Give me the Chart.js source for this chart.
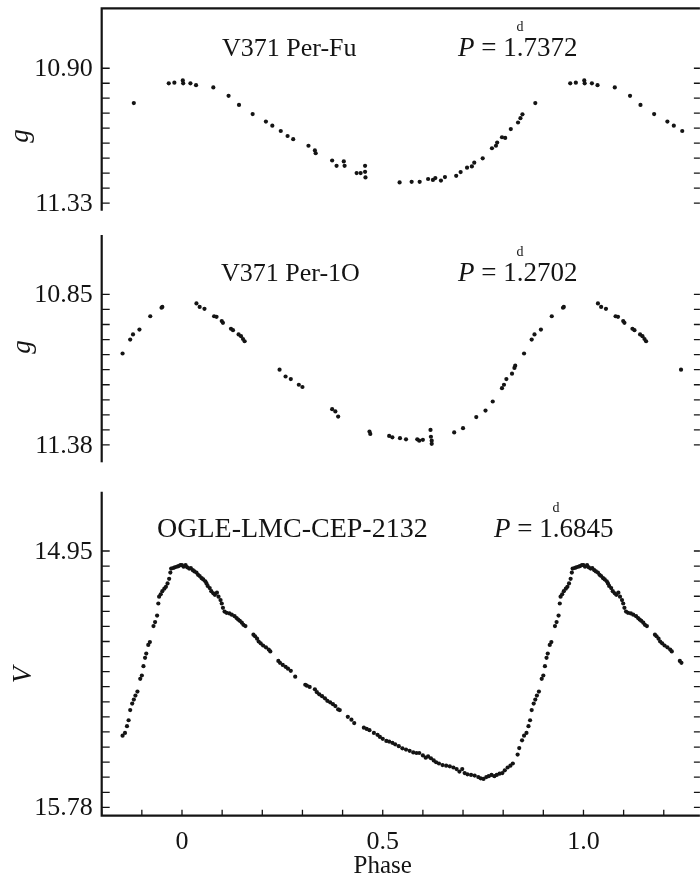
<!DOCTYPE html>
<html>
<head>
<meta charset="utf-8">
<script src="https://cdn.jsdelivr.net/npm/chart.js@4.4.1/dist/chart.umd.min.js"></script>
<style>
  html, body { margin: 0; padding: 0; background: #fff; overflow: hidden; }
  #wrap { position: relative; width: 700px; height: 878px; overflow: hidden; }
  #wrap canvas { position: absolute; left: 0; }
</style>
</head>
<body>
<div id="wrap">
  <canvas id="c1" width="702" height="222" style="top:0px"></canvas>
  <canvas id="c2" width="702" height="248" style="top:222px"></canvas>
  <canvas id="c3" width="702" height="408" style="top:470px"></canvas>
</div>
<script>
// ---------- light-curve data (phase, magnitude) ----------
// V371 Per, fundamental mode, g band
const fuPhase = [0.002, 0.003, 0.021, 0.035, 0.078, 0.116, 0.142, 0.176, 0.209, 0.225, 0.246, 0.263, 0.277, 0.315, 0.331, 0.333, 0.374, 0.385, 0.403, 0.405, 0.435, 0.445, 0.456, 0.456, 0.457, 0.542, 0.572, 0.592, 0.613, 0.625, 0.631, 0.645, 0.655, 0.683, 0.694, 0.710, 0.722, 0.728, 0.749, 0.772, 0.782, 0.785, 0.797, 0.805, 0.819, 0.837, 0.843, 0.848, 0.880, 0.967, 0.981];
const fuMag = [10.939, 10.948, 10.948, 10.954, 10.961, 10.988, 11.017, 11.046, 11.070, 11.083, 11.100, 11.116, 11.126, 11.147, 11.162, 11.171, 11.194, 11.211, 11.197, 11.211, 11.234, 11.234, 11.211, 11.230, 11.248, 11.264, 11.262, 11.262, 11.253, 11.256, 11.250, 11.258, 11.247, 11.243, 11.231, 11.217, 11.213, 11.201, 11.187, 11.155, 11.147, 11.137, 11.120, 11.122, 11.094, 11.073, 11.059, 11.047, 11.011, 10.948, 10.946];

// V371 Per, first overtone, g band
const foPhase = [0.036, 0.044, 0.056, 0.080, 0.086, 0.099, 0.102, 0.122, 0.127, 0.141, 0.147, 0.152, 0.156, 0.243, 0.258, 0.271, 0.291, 0.300, 0.374, 0.382, 0.389, 0.467, 0.469, 0.516, 0.524, 0.543, 0.558, 0.586, 0.591, 0.600, 0.619, 0.620, 0.622, 0.622, 0.678, 0.700, 0.733, 0.756, 0.774, 0.797, 0.802, 0.808, 0.822, 0.828, 0.830, 0.852, 0.871, 0.878, 0.894, 0.921, 0.949, 0.951];
const foMag = [10.882, 10.894, 10.901, 10.927, 10.929, 10.944, 10.950, 10.971, 10.976, 10.991, 10.997, 11.007, 11.015, 11.115, 11.139, 11.148, 11.168, 11.176, 11.254, 11.262, 11.280, 11.333, 11.341, 11.348, 11.353, 11.356, 11.360, 11.360, 11.365, 11.362, 11.327, 11.351, 11.365, 11.376, 11.336, 11.321, 11.282, 11.259, 11.227, 11.180, 11.168, 11.148, 11.129, 11.109, 11.101, 11.058, 11.009, 10.991, 10.974, 10.927, 10.897, 10.894];

// OGLE-LMC-CEP-2132, V band
const ogPhase = [0.000, 0.004, 0.009, 0.013, 0.018, 0.022, 0.027, 0.031, 0.036, 0.040,
  0.044, 0.049, 0.053, 0.058, 0.061, 0.064, 0.069, 0.073, 0.078, 0.082,
  0.087, 0.091, 0.096, 0.099, 0.102, 0.106, 0.111, 0.118, 0.124, 0.131,
  0.136, 0.140, 0.144, 0.149, 0.153, 0.158, 0.178, 0.182, 0.187, 0.191,
  0.196, 0.202, 0.209, 0.216, 0.220, 0.240, 0.244, 0.251, 0.258, 0.264,
  0.271, 0.282, 0.307, 0.311, 0.318, 0.331, 0.336, 0.342, 0.349, 0.356,
  0.362, 0.369, 0.376, 0.382, 0.389, 0.393, 0.413, 0.422, 0.429, 0.453,
  0.460, 0.467, 0.478, 0.487, 0.493, 0.500, 0.509, 0.516, 0.524, 0.531,
  0.540, 0.549, 0.558, 0.567, 0.576, 0.584, 0.591, 0.600, 0.607, 0.613,
  0.620, 0.627, 0.633, 0.640, 0.649, 0.658, 0.667, 0.676, 0.684, 0.691,
  0.698, 0.704, 0.711, 0.720, 0.729, 0.738, 0.744, 0.751, 0.758, 0.764,
  0.771, 0.778, 0.784, 0.791, 0.798, 0.804, 0.811, 0.818, 0.824, 0.836,
  0.840, 0.847, 0.852, 0.858, 0.863, 0.867, 0.871, 0.876, 0.880, 0.884,
  0.889, 0.896, 0.900, 0.904, 0.908, 0.911, 0.916, 0.920, 0.929, 0.933,
  0.938, 0.941, 0.943, 0.947, 0.951, 0.956, 0.960, 0.964, 0.968, 0.971,
  0.973, 0.978, 0.982, 0.987, 0.991, 0.996];
const ogMag = [14.996, 15.001, 14.996, 15.003, 15.007, 15.005, 15.012, 15.016, 15.020, 15.027,
  15.031, 15.038, 15.042, 15.048, 15.055, 15.063, 15.070, 15.080, 15.087, 15.092,
  15.085, 15.098, 15.109, 15.120, 15.134, 15.146, 15.150, 15.152, 15.156, 15.161,
  15.167, 15.172, 15.176, 15.182, 15.189, 15.193, 15.221, 15.226, 15.234, 15.243,
  15.249, 15.256, 15.262, 15.269, 15.275, 15.306, 15.312, 15.319, 15.325, 15.331,
  15.338, 15.357, 15.383, 15.386, 15.390, 15.398, 15.407, 15.414, 15.420, 15.427,
  15.435, 15.440, 15.446, 15.452, 15.463, 15.465, 15.487, 15.496, 15.507, 15.522,
  15.526, 15.530, 15.539, 15.545, 15.552, 15.558, 15.565, 15.567, 15.571, 15.576,
  15.582, 15.589, 15.593, 15.597, 15.602, 15.604, 15.604, 15.612, 15.619, 15.615,
  15.621, 15.628, 15.634, 15.638, 15.643, 15.645, 15.647, 15.651, 15.656, 15.664,
  15.656, 15.669, 15.673, 15.675, 15.677, 15.682, 15.686, 15.688, 15.682, 15.679,
  15.675, 15.679, 15.675, 15.671, 15.669, 15.660, 15.651, 15.645, 15.638, 15.609,
  15.588, 15.563, 15.548, 15.539, 15.517, 15.498, 15.465, 15.444, 15.431, 15.418,
  15.405, 15.364, 15.353, 15.323, 15.296, 15.282, 15.254, 15.245, 15.193, 15.180,
  15.159, 15.120, 15.098, 15.090, 15.080, 15.072, 15.066, 15.055, 15.040, 15.020,
  15.007, 15.005, 15.003, 15.001, 14.999, 14.996];

// ---------- axes ----------
const phaseTicks = [-0.2, -0.1, 0, 0.1, 0.2, 0.3, 0.4, 0.5, 0.6, 0.7, 0.8, 0.9, 1.0, 1.1, 1.2];
const phaseLabels = { '0': '0', '0.5': '0.5', '1': '1.0' };
const fuTickLabels = ['10.90', '11.33'];
const foTickLabels = ['10.85', '11.38'];
const ogTickLabels = ['14.95', '15.78'];

const PHASE_MIN = -0.2, PHASE_MAX = 1.29;   // axis extent
const SHOW_MIN = -0.15, SHOW_MAX = 1.25;    // repeated-cycle window

const FONT = '"Liberation Serif", "Times New Roman", serif';
const INK = '#141414';

// each observation is plotted at phase, phase-1 and phase+1 within the window
function foldCycles(phase, mag) {
  const pts = [];
  phase.forEach((p, i) => {
    [p - 1, p, p + 1].forEach(q => {
      if (q >= SHOW_MIN && q <= SHOW_MAX) pts.push({ x: q, y: mag[i] });
    });
  });
  return pts;
}

// tick marks evenly spaced between the two labelled magnitudes
function magTicks(labels, intervals) {
  const lo = parseFloat(labels[0]), hi = parseFloat(labels[1]);
  const out = [];
  for (let k = 0; k <= intervals; k++) out.push(lo + (hi - lo) * k / intervals);
  return out;
}

function drawPeriod(ctx, x, y, whole, frac) {
  ctx.textAlign = 'left';
  ctx.font = 'italic 27px ' + FONT;
  ctx.fillText('P', x, y);
  x += ctx.measureText('P').width;
  ctx.font = '27px ' + FONT;
  const head = ' = ' + whole;
  ctx.fillText(head, x, y);
  x += ctx.measureText(head).width;
  const dotW = ctx.measureText('.').width;
  ctx.fillText('.', x, y);
  ctx.fillText(frac, x + dotW, y);
  ctx.font = '14px ' + FONT;
  ctx.textAlign = 'center';
  ctx.fillText('d', x + dotW / 2, y - 25);
  ctx.textAlign = 'left';
}

const decor = {
  id: 'decor',
  afterDraw(chart, args, o) {
    const { ctx, chartArea: a, scales: { x, y } } = chart;
    ctx.save();
    ctx.strokeStyle = INK;
    ctx.fillStyle = INK;
    ctx.lineCap = 'butt';

    // tick marks, pointing inward
    ctx.lineWidth = 1.3;
    ctx.beginPath();
    y.ticks.forEach(t => {
      const py = y.getPixelForValue(t.value);
      ctx.moveTo(a.left, py); ctx.lineTo(a.left + 8, py);
      ctx.moveTo(a.right, py); ctx.lineTo(a.right - 6, py);
    });
    if (o.bottomAxis) {
      x.ticks.forEach(t => {
        const px = x.getPixelForValue(t.value);
        ctx.moveTo(px, a.bottom); ctx.lineTo(px, a.bottom - 6);
      });
    }
    ctx.stroke();

    // frame lines
    ctx.lineWidth = 2.2;
    ctx.beginPath();
    ctx.moveTo(a.left, a.top - (o.topBorder ? 1.1 : 0));
    ctx.lineTo(a.left, a.bottom + (o.bottomAxis ? 1.1 : 0));
    if (o.topBorder) { ctx.moveTo(a.left, a.top); ctx.lineTo(a.right, a.top); }
    if (o.bottomAxis) { ctx.moveTo(a.left, a.bottom); ctx.lineTo(a.right, a.bottom); }
    ctx.stroke();

    // star name and period
    ctx.textBaseline = 'alphabetic';
    ctx.textAlign = 'left';
    ctx.font = o.nameSize + 'px ' + FONT;
    ctx.fillText(o.name, o.nameX, o.baseY);
    drawPeriod(ctx, o.periodX, o.baseY, o.whole, o.frac);

    // vertical axis name
    ctx.save();
    ctx.translate(o.yNameX, o.yNameY);
    ctx.rotate(-Math.PI / 2);
    ctx.font = 'italic 27px ' + FONT;
    ctx.textAlign = 'center';
    ctx.fillText(o.yName, 0, o.yNameShift);
    ctx.restore();

    // horizontal axis name
    if (o.xName) {
      ctx.font = '25px ' + FONT;
      ctx.textAlign = 'center';
      ctx.fillText(o.xName, x.getPixelForValue(0.5), o.xNameY);
    }
    ctx.restore();
  }
};

function makeChart(id, cfg) {
  const ticks = magTicks(cfg.labels, cfg.intervals);
  return new Chart(document.getElementById(id), {
    type: 'scatter',
    data: {
      datasets: [{
        data: foldCycles(cfg.phase, cfg.mag),
        backgroundColor: INK,
        borderWidth: 0,
        pointRadius: 2.1,
        pointHoverRadius: 2.1
      }]
    },
    options: {
      responsive: false,
      animation: false,
      devicePixelRatio: 1,
      events: [],
      layout: { padding: cfg.padding },
      plugins: {
        legend: { display: false },
        tooltip: { enabled: false },
        decor: cfg.decor
      },
      scales: {
        x: {
          type: 'linear',
          min: PHASE_MIN,
          max: PHASE_MAX,
          display: cfg.showX,
          grid: { display: false },
          border: { display: false },
          afterBuildTicks: s => { s.ticks = phaseTicks.map(v => ({ value: v })); },
          afterFit: s => { if (cfg.showX) s.height = cfg.xHeight; },
          ticks: {
            autoSkip: false,
            maxRotation: 0,
            padding: 3,
            color: INK,
            font: { family: FONT, size: 26 },
            callback: v => phaseLabels[String(Math.round(v * 10) / 10)] || ''
          }
        },
        y: {
          type: 'linear',
          reverse: true,
          min: cfg.range[0],
          max: cfg.range[1],
          grid: { display: false },
          border: { display: false },
          afterBuildTicks: s => { s.ticks = ticks.map(v => ({ value: v })); },
          afterFit: s => { s.width = 101.7; },
          ticks: {
            autoSkip: false,
            padding: 1,
            labelOffset: 1,
            color: INK,
            font: { family: FONT, size: 26, lineHeight: 0.5 },
            callback: (v, i, arr) => i === 0 ? cfg.labels[0] : (i === arr.length - 1 ? cfg.labels[1] : '')
          }
        }
      }
    },
    plugins: [decor]
  });
}

makeChart('c1', {
  phase: fuPhase, mag: fuMag, labels: fuTickLabels, intervals: 9,
  range: [10.709, 11.354],
  padding: { top: 8.3, bottom: 11.3, left: 0, right: 0 },
  showX: false,
  decor: {
    topBorder: true, bottomAxis: false,
    name: 'V371 Per-Fu', nameSize: 26, nameX: 222, periodX: 458, baseY: 56,
    whole: '1', frac: '7372',
    yName: 'g', yNameX: 25, yNameY: 136, yNameShift: 3
  }
});

makeChart('c2', {
  phase: foPhase, mag: foMag, labels: foTickLabels, intervals: 10,
  range: [10.641, 11.441],
  padding: { top: 13, bottom: 7.7, left: 0, right: 0 },
  showX: false,
  decor: {
    topBorder: false, bottomAxis: false,
    name: 'V371 Per-1O', nameSize: 26, nameX: 221, periodX: 458, baseY: 59,
    whole: '1', frac: '2702',
    yName: 'g', yNameX: 27, yNameY: 125, yNameShift: 3
  }
});

makeChart('c3', {
  phase: ogPhase, mag: ogMag, labels: ogTickLabels, intervals: 17,
  range: [14.758, 15.807],
  padding: { top: 21.7, bottom: 0, left: 0, right: 0 },
  showX: true, xHeight: 62.3,
  decor: {
    topBorder: false, bottomAxis: true,
    name: 'OGLE-LMC-CEP-2132', nameSize: 28, nameX: 157, periodX: 494, baseY: 67,
    whole: '1', frac: '6845',
    yName: 'V', yNameX: 22, yNameY: 205, yNameShift: 9,
    xName: 'Phase', xNameY: 403
  }
});
</script>
</body>
</html>
